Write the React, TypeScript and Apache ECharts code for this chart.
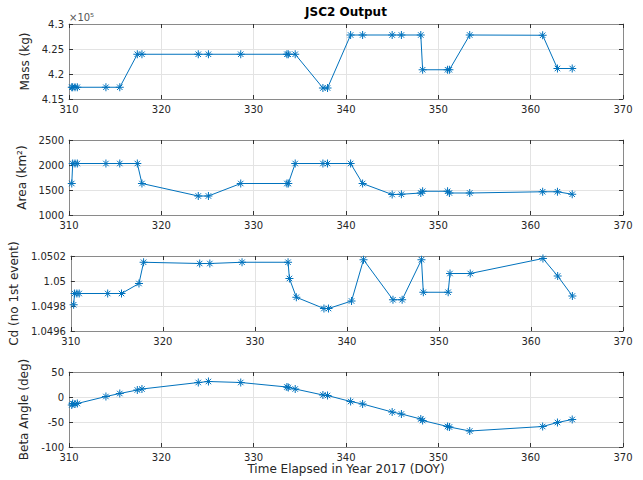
import React, { useEffect, useRef } from "react";
import * as echarts from "echarts";

// Day of year 2017 for each event
const doy = [310.3, 310.4, 310.65, 310.9, 314.0, 315.5, 317.4, 317.9, 324.0, 325.1, 328.6, 333.6, 333.75, 334.5, 337.5, 338.0, 340.5, 341.8, 345.0, 346.0, 348.1, 348.3, 351.0, 351.2, 353.4, 361.3, 362.9, 364.5];
const massKg = [417350, 417350, 417350, 417350, 417350, 417350, 423950, 423950, 423950, 423950, 423950, 423950, 423950, 423950, 417200, 417200, 427800, 427800, 427800, 427800, 427800, 420850, 420850, 420850, 427800, 427750, 421100, 421100];
const areaKm2 = [1630, 2030, 2030, 2030, 2030, 2030, 2030, 1630, 1380, 1380, 1630, 1630, 1630, 2030, 2030, 2030, 2030, 1630, 1410, 1415, 1440, 1475, 1475, 1440, 1440, 1465, 1465, 1415];
const cdNoFirst = [1.04981, 1.0499, 1.0499, 1.0499, 1.0499, 1.0499, 1.04998, 1.05015, 1.05014, 1.05014, 1.05015, 1.05015, 1.05002, 1.04987, 1.04978, 1.04978, 1.04984, 1.05017, 1.04985, 1.04985, 1.05017, 1.04991, 1.04991, 1.05006, 1.05006, 1.05018, 1.05004, 1.04988];
const betaDeg = [-16, -13, -14, -13, 1, 7, 14, 16, 29, 31, 29, 20, 19, 16, 4, 3, -9, -14, -30, -34, -44, -47, -59, -60, -68, -59, -51, -45];

const xRange = { min: 310, max: 370, interval: 10 };
const yRanges = [
  { name: "Mass (kg)", min: 415000, max: 430000, interval: 5000, gap: 29 },
  { name: "Area (km²)", min: 1000, max: 2500, interval: 500, gap: 32 },
  { name: "Cd (no 1st event)", min: 1.0496, max: 1.0502, interval: 0.0002, gap: 43 },
  { name: "Beta Angle (deg)", min: -100, max: 50, interval: 50, gap: 32 },
];
const seriesValues = [massKg, areaKm2, cdNoFirst, betaDeg];

const LEFT = 69;
const RIGHT = 20;
const TOPS = [24, 140, 256, 372];
const H = 75;
const BLUE = "#0072BD";
const TXT = "#262626";
const BOX = "#8a8a8a";
const GRIDC = "#e3e3e3";
const FONT = "DejaVu Sans";
const STAR = "path://M5,0L5,10M0,5L10,5M1.6,1.6L8.4,8.4M1.6,8.4L8.4,1.6";

function fmtY(i: number, v: number): string {
  if (i === 0) return String(Math.round(v / 100) / 1000);
  if (i === 2) return String(parseFloat(v.toFixed(4)));
  return String(Math.round(v));
}

export default function App() {
  const ref = useRef<HTMLDivElement>(null);
  useEffect(() => {
    if (!ref.current) return;
    const chart = echarts.init(ref.current, undefined, { renderer: "svg" });
    const grid: any[] = [];
    const xAxis: any[] = [];
    const yAxis: any[] = [];
    const series: any[] = [];
    yRanges.forEach((yr, i) => {
      grid.push({ left: LEFT, right: RIGHT, top: TOPS[i], height: H, containLabel: false });
      xAxis.push({
        type: "value", gridIndex: i, min: xRange.min, max: xRange.max, interval: xRange.interval,
        axisLine: { show: true, onZero: false, lineStyle: { color: BOX, width: 1 } },
        axisTick: { show: true, inside: true, length: 4, lineStyle: { color: "#333" } },
        axisLabel: { color: TXT, fontSize: 10, fontFamily: FONT, margin: 5 },
        splitLine: { show: true, lineStyle: { color: GRIDC, width: 1 } },
      });
      xAxis.push({
        type: "value", gridIndex: i, position: "top", min: xRange.min, max: xRange.max, interval: xRange.interval,
        axisLine: { show: true, onZero: false, lineStyle: { color: BOX, width: 1 } },
        axisTick: { show: true, inside: true, length: 4, lineStyle: { color: "#333" } },
        axisLabel: { show: false },
        splitLine: { show: false },
      });
      yAxis.push({
        type: "value", gridIndex: i, min: yr.min, max: yr.max, interval: yr.interval,
        name: yr.name, nameLocation: "middle", nameGap: yr.gap,
        nameTextStyle: { color: TXT, fontSize: 12, fontFamily: FONT },
        axisLine: { show: true, onZero: false, lineStyle: { color: BOX, width: 1 } },
        axisTick: { show: true, inside: true, length: 4, lineStyle: { color: "#333" } },
        axisLabel: { color: TXT, fontSize: 10, fontFamily: FONT, margin: 5, formatter: (v: number) => fmtY(i, v) },
        splitLine: { show: true, lineStyle: { color: GRIDC, width: 1 } },
      });
      yAxis.push({
        type: "value", gridIndex: i, position: "right", min: yr.min, max: yr.max, interval: yr.interval,
        axisLine: { show: true, onZero: false, lineStyle: { color: BOX, width: 1 } },
        axisTick: { show: true, inside: true, length: 4, lineStyle: { color: "#333" } },
        axisLabel: { show: false },
        splitLine: { show: false },
      });
      series.push({
        type: "line", xAxisIndex: 2 * i, yAxisIndex: 2 * i,
        data: doy.map((d, k) => [d, seriesValues[i][k]]),
        symbol: STAR, symbolSize: 8, showAllSymbol: true,
        lineStyle: { color: BLUE, width: 1 },
        itemStyle: { color: "none", borderColor: BLUE, borderWidth: 1 },
        emphasis: { disabled: true },
      });
    });
    chart.setOption({
      animation: false,
      backgroundColor: "#ffffff",
      textStyle: { fontFamily: FONT },
      grid, xAxis, yAxis, series,
      graphic: [
        { type: "text", x: 346, y: 12, style: { text: "JSC2 Output", fontSize: 12, fontWeight: "bold", fontFamily: FONT, fill: "#000", textAlign: "center", textVerticalAlign: "middle" } },
        { type: "text", x: 69, y: 17, style: { text: "×10⁵", fontSize: 10, fontFamily: FONT, fill: "#555", textAlign: "left", textVerticalAlign: "middle" } },
        { type: "text", x: 346, y: 469, style: { text: "Time Elapsed in Year 2017 (DOY)", fontSize: 12, fontFamily: FONT, fill: TXT, textAlign: "center", textVerticalAlign: "middle" } },
      ],
    });
    return () => chart.dispose();
  }, []);
  return <div ref={ref} style={{ width: 643, height: 480, position: "absolute", left: 0, top: 0 }} />;
}
